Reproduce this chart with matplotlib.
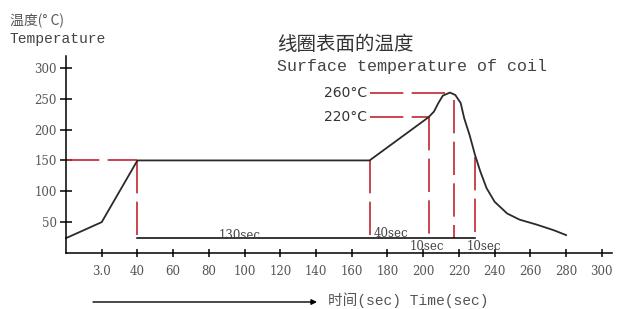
import matplotlib
matplotlib.use("Agg")
import matplotlib.pyplot as plt

# ==============
# 数据
# ==============
time_sec = [0, 20, 40, 170, 203, 206, 208.5, 211, 215, 218, 221, 223, 226,
            229, 232, 235.5, 240, 247, 254, 263.5, 273, 280]
temp_c = [24, 50, 150, 150, 220, 229, 243, 255, 260, 256, 243, 218, 191,
          159, 132, 105, 83, 64, 54, 46, 37, 29]

x_ticks = [20, 40, 60, 80, 100, 120, 140, 160, 180, 200, 220, 240, 260, 280, 300]
x_tick_labels = ["3.0", "40", "60", "80", "100", "120", "140", "160", "180",
                 "200", "220", "240", "260", "280", "300"]
y_ticks = [50, 100, 150, 200, 250, 300]

mark_x = [40, 170, 203, 217, 229]
mark_top = [150, 150, 220, 248, 155]
base_temp = 25

preheat_temp = 150
peak_levels = [260, 220]
peak_labels = ["260°C", "220°C"]
peak_end_x = [215, 203]

segment_labels = ["130sec", "40sec", "10sec", "10sec"]

RED = "#c02530"
GRAY = "#555555"
CJK = ["Noto Sans CJK SC", "DejaVu Sans"]

# ==============
# 画布
# ==============
fig = plt.figure(figsize=(6.2, 3.09), dpi=100)
ax = fig.add_axes([0, 0, 1, 1])
ax.set_xlim(-36.95, 310.2)
ax.set_ylim(-90.8, 410)

for side in ["top", "right"]:
    ax.spines[side].set_visible(False)
ax.spines["left"].set_position(("data", 0))
ax.spines["bottom"].set_position(("data", 0))
ax.spines["left"].set_bounds(0, 320)
ax.spines["bottom"].set_bounds(0, 306)
ax.spines["left"].set_linewidth(1.1)
ax.spines["bottom"].set_linewidth(1.1)

ax.set_xticks(x_ticks)
ax.set_xticklabels(x_tick_labels)
ax.set_yticks(y_ticks)
ax.tick_params(axis="x", direction="inout", length=6, width=1.1, pad=6,
               labelsize=8.5, labelcolor=GRAY)
ax.tick_params(axis="y", direction="inout", length=9, width=1.1, pad=2,
               labelsize=8.5, labelcolor=GRAY)
for lab in ax.get_xticklabels() + ax.get_yticklabels():
    lab.set_family("DejaVu Serif")

# ==============
# 红色虚线
# ==============
dash = dict(color=RED, lw=1.2, dashes=(20, 5))
ax.plot([0, 40], [preheat_temp, preheat_temp], **dash)
for x, top in zip(mark_x, mark_top):
    ax.plot([x, x], [top, base_temp], **dash)
for lvl, xe in zip(peak_levels, peak_end_x):
    ax.plot([170, xe], [lvl, lvl], **dash)

# 底部时间线
ax.plot([mark_x[0], mark_x[-1]], [base_temp, base_temp], color="black", lw=1.1)

# 温度曲线
ax.plot(time_sec, temp_c, color="#2a2a2a", lw=1.3,
        solid_joinstyle="round")

# ==============
# 文字
# ==============
for lvl, txt in zip(peak_levels, peak_labels):
    ax.text(168.5, lvl, txt, ha="right", va="center", fontsize=10,
            color="#333333", family="DejaVu Sans")

seg_pos = [(97, 29), (182, 31), (202, 10), (234, 11)]
for (sx, sy), txt in zip(seg_pos, segment_labels):
    ax.text(sx, sy, txt, ha="center", va="center", fontsize=8.5,
            color="#444444", family="DejaVu Serif")

fig.text(10 / 620, 1 - 21 / 309, "温度(° C)", ha="left", va="center",
         fontsize=10, color=GRAY, family=CJK)
fig.text(10 / 620, 1 - 39 / 309, "Temperature", ha="left", va="center",
         fontsize=10.5, color="#444444", family="Liberation Mono")
fig.text(277 / 620, 1 - 45 / 309, "线圈表面的温度", ha="left", va="center",
         fontsize=14, color="#333333", family=CJK)
fig.text(277 / 620, 1 - 67 / 309, "Surface temperature of coil", ha="left",
         va="center", fontsize=12, color="#444444", family="Liberation Mono")

# 横轴说明箭头
ax.annotate("", xy=(317 / 620, 1 - 302 / 309), xytext=(93 / 620, 1 - 302 / 309),
            xycoords="figure fraction", textcoords="figure fraction",
            arrowprops=dict(arrowstyle="-|>", lw=1.0, color="black",
                            mutation_scale=8, shrinkA=0, shrinkB=0))
fig.text(328 / 620, 1 - 300 / 309, "时间(sec) Time(sec)", ha="left",
         va="center", fontsize=10.5, color=GRAY,
         family=["Liberation Mono", "Noto Sans CJK SC"])

fig.savefig("out.png", dpi=100)
plt.close(fig)
